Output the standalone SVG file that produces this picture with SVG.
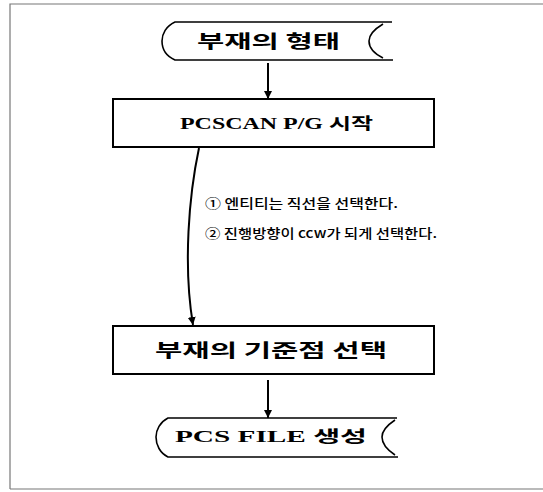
<svg xmlns="http://www.w3.org/2000/svg" width="543" height="492" viewBox="0 0 543 492">
<defs>
<marker id="ah" markerWidth="8" markerHeight="10" refX="8" refY="5" orient="auto" markerUnits="userSpaceOnUse">
<path d="M0,1 L8,5 L0,9 Z" fill="#000"/>
</marker>
<style>
.frame{fill:none;stroke:#777;stroke-width:1.2}
.box{fill:#fff;stroke:#000;stroke-width:2}
.term{fill:none;stroke:#000;stroke-width:1.6}
.conn{fill:none;stroke:#000;stroke-width:2}
.lbl{font-family:"Liberation Serif","Noto Sans CJK KR",serif;font-weight:bold;fill:#000}
.kr{font-family:"Noto Sans CJK KR","Noto Sans",sans-serif;font-weight:bold;fill:#000}
.note{font-family:"Noto Sans CJK KR","Noto Sans",sans-serif;font-size:13px;font-weight:500;fill:#000}
</style>
</defs>
<rect width="543" height="492" fill="#fff"/>
<path class="frame" d="M10,489 V4 H543 M10,489 H543"/>

<g id="start">
<path class="term" d="M392,22 H175 C166,26 162,34 162,41 C162,49 166,56 175,60 H393"/>
<path class="term" d="M383,24 C373,30 369,36 369,41 C369,47 373,53 383,58"/>
<text class="kr" x="197" y="48" font-size="18" textLength="143" lengthAdjust="spacingAndGlyphs">부재의 형태</text>
</g>

<g id="pcscan">
<rect class="box" x="113" y="99" width="321" height="48"/>
<text class="lbl" x="180" y="129" font-size="16" textLength="193" lengthAdjust="spacingAndGlyphs">PCSCAN P/G 시작</text>
</g>

<g id="notes">
<text class="note" x="205" y="208" textLength="193" lengthAdjust="spacingAndGlyphs">① 엔티티는 직선을 선택한다.</text>
<text class="note" x="205" y="238" textLength="232" lengthAdjust="spacingAndGlyphs">② 진행방향이 ccw가 되게 선택한다.</text>
</g>

<g id="basepoint">
<rect class="box" x="113" y="326" width="321" height="48"/>
<text class="kr" x="155" y="357" font-size="18" textLength="232" lengthAdjust="spacingAndGlyphs">부재의 기준점 선택</text>
</g>

<g id="end">
<path class="term" d="M397,418 H168 C160,422 156,430 156,437 C156,445 160,453 168,457 H398"/>
<path class="term" d="M395,420 C386,426 382,432 382,437 C382,443 386,449 395,455"/>
<text class="lbl" x="175" y="442" font-size="16" textLength="192" lengthAdjust="spacingAndGlyphs">PCS FILE 생성</text>
</g>

<g id="connectors">
<path class="conn" d="M268,63 V99" marker-end="url(#ah)"/>
<path class="conn" d="M199,148 C189,195 183,265 193,325" marker-end="url(#ah)"/>
<path class="conn" d="M268,380 V418" marker-end="url(#ah)"/>
</g>
</svg>
